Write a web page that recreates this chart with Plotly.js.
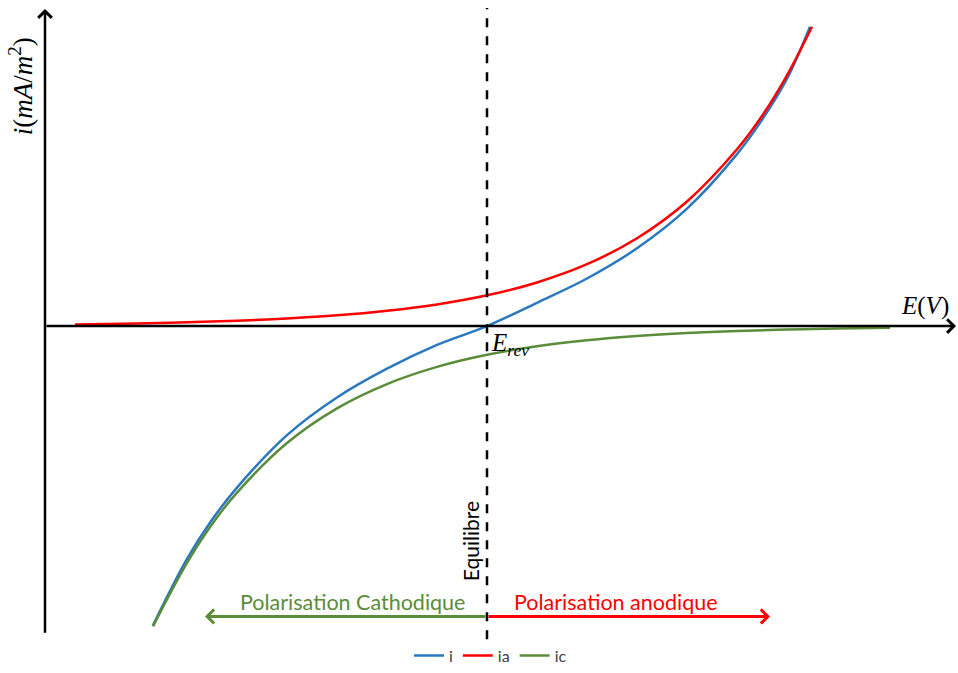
<!DOCTYPE html>
<html>
<head>
<meta charset="utf-8">
<script src="https://cdn.plot.ly/plotly-3.0.1.min.js"></script>
<style>html,body{margin:0;padding:0;background:#fff;}#chart{width:958px;height:673px;}</style>
</head>
<body>
<div id="chart"></div>
<script>
// Potential E (V, relative to E_rev) and current densities (mA/m²)
const E_ia = [-2.06, -1.75, -1.5, -1.25, -1.0, -0.75, -0.5, -0.25, 0, 0.25, 0.5, 0.75, 1.0, 1.25, 1.375, 1.5, 1.625];
const ia   = [0.17, 0.27, 0.38, 0.54, 0.77, 1.08, 1.54, 2.18, 3.1, 4.4, 6.24, 8.86, 12.57, 17.84, 21.2, 25.3, 30.2];

const E_i   = [-1.67, -1.5, -1.375, -1.25, -1.0, -0.75, -0.5, -0.25, 0, 0.25, 0.5, 0.75, 1.0, 1.25, 1.375, 1.5, 1.615];
const i_tot = [-30.2, -23.5, -19.55, -16.3, -11.0, -7.2, -4.3, -1.9, 0, 2.35, 4.8, 7.85, 11.85, 17.35, 20.8, 24.95, 30.2];

const E_ic = [-1.67, -1.5, -1.375, -1.25, -1.0, -0.75, -0.5, -0.25, 0, 0.25, 0.5, 0.75, 1.0, 1.25, 1.5, 1.75, 2.015];
const ic   = [-30.3, -23.9, -20.0, -16.8, -11.8, -8.3, -5.85, -4.12, -2.9, -2.04, -1.44, -1.01, -0.71, -0.5, -0.35, -0.25, -0.17];

const seriesNames = ['i', 'ia', 'ic'];
const E_rev = 0;

const blue = '#2a78c0', red = '#ff0000', green = '#5b8c3a';
const serif = 'Liberation Serif, DejaVu Serif, serif';
const sans = 'Lato, Open Sans, sans-serif';

const traces = [
  {x: E_i, y: i_tot, name: seriesNames[0], mode: 'lines', line: {color: blue, width: 2.5, shape: 'spline', smoothing: 1}},
  {x: E_ia, y: ia, name: seriesNames[1], mode: 'lines', line: {color: red, width: 2.5, shape: 'spline', smoothing: 1}},
  {x: E_ic, y: ic, name: seriesNames[2], mode: 'lines', line: {color: green, width: 2.5, shape: 'spline', smoothing: 1}}
];

function arrow(x0, y0, x1, y1, color, w, size) {
  return {x: x1, y: y1, ax: x0, ay: y0, xref: 'x', yref: 'y', axref: 'x', ayref: 'y',
          text: '', showarrow: true, arrowhead: 4, arrowsize: size, arrowwidth: w,
          arrowcolor: color, standoff: 0, startstandoff: 0};
}

const layout = {
  width: 958, height: 673,
  margin: {l: 0, r: 0, t: 0, b: 0},
  paper_bgcolor: '#fff', plot_bgcolor: '#fff',
  showlegend: true,
  legend: {orientation: 'h', x: 0.512, xanchor: 'center', y: 0.017, yanchor: 'middle',
           font: {family: sans, size: 16, color: '#404040'}, bgcolor: 'rgba(0,0,0,0)',
           itemwidth: 30, tracegroupgap: 0},
  xaxis: {range: [-2.435, 2.355], showgrid: false, zeroline: false, showline: false,
          showticklabels: false, ticks: '', fixedrange: true},
  yaxis: {range: [-34.4, 32.9], showgrid: false, zeroline: false, showline: false,
          showticklabels: false, ticks: '', fixedrange: true},
  shapes: [
    {type: 'line', xref: 'x', yref: 'y', x0: E_rev, x1: E_rev, y0: -31.6, y1: 32.1,
     line: {color: '#000', width: 2.5, dash: 'dash'}}
  ],
  annotations: [
    arrow(-2.21, -31.1, -2.21, 32.0, '#000', 2.5, 1.05),
    arrow(-2.21, 0, 2.345, 0, '#000', 2.5, 1.05),
    arrow(E_rev, -29.3, -1.41, -29.3, green, 3, 0.9),
    arrow(E_rev, -29.3, 1.415, -29.3, red, 3, 0.9),
    {x: -2.33, y: 24.2, xref: 'x', yref: 'y', showarrow: false, textangle: -90,
     text: '<i>i</i>(<i>mA</i>/<i>m</i><sup>2</sup>)', font: {family: serif, size: 27, color: '#000'}},
    {x: 2.19, y: 2.0, xref: 'x', yref: 'y', showarrow: false,
     text: '<i>E</i>(<i>V</i>)', font: {family: serif, size: 25, color: '#000'}},
    {x: 0.01, y: -1.9, xref: 'x', yref: 'y', showarrow: false, xanchor: 'left',
     text: '<i>E</i><sub><i>rev</i></sub>', font: {family: serif, size: 25, color: '#000'}},
    {x: -0.085, y: -21.7, xref: 'x', yref: 'y', showarrow: false, textangle: -90,
     text: 'Equilibre', font: {family: sans, size: 21, color: '#000'}},
    {x: -0.675, y: -27.85, xref: 'x', yref: 'y', showarrow: false,
     text: 'Polarisation Cathodique', font: {family: sans, size: 21.5, color: green}},
    {x: 0.645, y: -27.85, xref: 'x', yref: 'y', showarrow: false,
     text: 'Polarisation anodique', font: {family: sans, size: 21.5, color: red}}
  ]
};

Plotly.newPlot('chart', traces, layout, {displayModeBar: false, staticPlot: true});
</script>
</body>
</html>
